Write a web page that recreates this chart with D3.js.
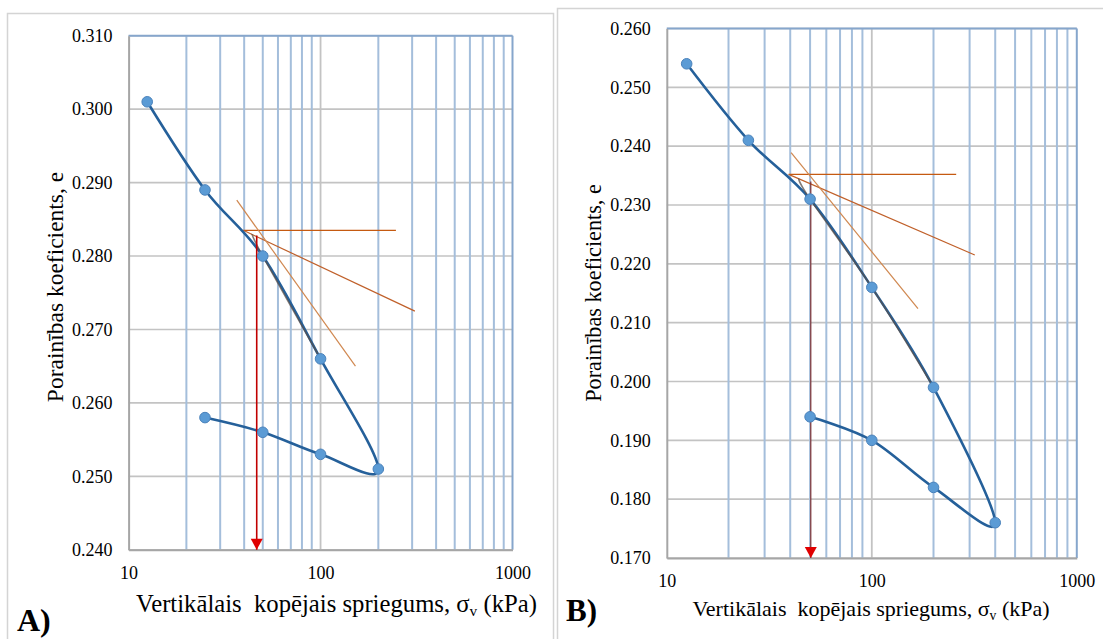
<!DOCTYPE html>
<html><head><meta charset="utf-8">
<script src="https://cdn.jsdelivr.net/npm/d3@7"></script>
<style>
body{margin:0;background:#fff}
svg{display:block}
text{font-family:"Liberation Serif","Times New Roman",serif;fill:#000}
</style>
</head><body>
<svg id="c" width="1103" height="639"></svg>
<script>
// ---------- data ----------
const xMajorTicks = [10, 100, 1000];
const xMinorTicks = [20, 30, 40, 50, 60, 70, 80, 90, 200, 300, 400, 500, 600, 700, 800, 900];
const yTicksA = [0.240, 0.250, 0.260, 0.270, 0.280, 0.290, 0.300, 0.310];
const yTicksB = [0.170, 0.180, 0.190, 0.200, 0.210, 0.220, 0.230, 0.240, 0.250, 0.260];

// A) loading then unloading (kPa, void ratio)
const stressA = [12.5, 25, 50, 100, 200, 100, 50, 25];
const voidA   = [0.301, 0.289, 0.280, 0.266, 0.251, 0.253, 0.256, 0.258];
// B)
const stressB = [12.5, 25, 50, 100, 200, 400, 200, 100, 50];
const voidB   = [0.254, 0.241, 0.231, 0.216, 0.199, 0.176, 0.182, 0.190, 0.194];

// Casagrande construction lines [stress, e]
const horizA   = [[39.6, 0.2835], [247, 0.2835]];
const tangA    = [[39.6, 0.2835], [310, 0.2725]];
const virginA  = [[36.6, 0.2876], [152, 0.2650]];
const overlayA = [[44, 0.2830], [50, 0.2800], [100, 0.2660]];
const pcA      = [[46.5, 0.2828], [46.5, 0.240]];

const horizB   = [[39.3, 0.2352], [258, 0.2352]];
const tangB    = [[39.3, 0.2352], [318, 0.2215]];
const virginB  = [[40.4, 0.2389], [168, 0.2124]];
const overlayB = [[44, 0.2345], [50, 0.2310], [100, 0.2160], [200, 0.1990]];
const pcB      = [[50.4, 0.2340], [50.4, 0.170]];

const xTitle = "Vertikālais\u00a0 kopējais spriegums, σ";
const yTitle = "Porainības koeficients, e";

// ---------- drawing ----------
const svg = d3.select("#c");

const panels = [
  {label:"A)", x0:128.6, x1:512.5, yb:549.8, yt:35.7, dom:[0.240,0.310], yTicks:yTicksA,
   stress:stressA, e:voidA, horiz:horizA, tang:tangA, virgin:virginA, overlay:overlayA, pc:pcA,
   pcColor:"#c00000", pcWidth:1.6,
   box:[7.5,13.5,546,700], xFs:24.7, yFs:23.5, xTitleX:336.5, xTitleY:612, yTitleX:63, yTitleY:287,
   labX:17, labY:631, labFs:32},
  {label:"B)", x0:666.8, x1:1076.8, yb:558, yt:28.5, dom:[0.170,0.260], yTicks:yTicksB,
   stress:stressB, e:voidB, horiz:horizB, tang:tangB, virgin:virginB, overlay:overlayB, pc:pcB,
   pcColor:"#7b2424", pcWidth:1.1,
   box:[557.5,8.5,560,700], xFs:22, yFs:22.2, xTitleX:871, xTitleY:616, yTitleX:601, yTitleY:293,
   labX:566, labY:621, labFs:31}
];

panels.forEach(p => {
  const g = svg.append("g");
  g.append("rect").attr("x",p.box[0]).attr("y",p.box[1]).attr("width",p.box[2]).attr("height",p.box[3])
    .attr("fill","none").attr("stroke","#d4d4d4").attr("stroke-width",1.5);

  const x = d3.scaleLog().domain([10,1000]).range([p.x0,p.x1]);
  const y = d3.scaleLinear().domain(p.dom).range([p.yb,p.yt]);

  // horizontal gridlines
  g.selectAll(".hg").data(p.yTicks).join("line")
    .attr("x1",p.x0).attr("x2",p.x1).attr("y1",d=>y(d)).attr("y2",d=>y(d))
    .attr("stroke","#c3c3c3").attr("stroke-width",1.6);
  // minor vertical gridlines (blue)
  g.selectAll(".vm").data(xMinorTicks).join("line")
    .attr("x1",d=>x(d)).attr("x2",d=>x(d)).attr("y1",p.yt).attr("y2",p.yb)
    .attr("stroke","#a4bedb").attr("stroke-width",2);
  // major vertical gridline
  g.selectAll(".vM").data([100]).join("line")
    .attr("x1",d=>x(d)).attr("x2",d=>x(d)).attr("y1",p.yt).attr("y2",p.yb)
    .attr("stroke","#c3c3c3").attr("stroke-width",1.8);
  // borders
  g.append("line").attr("x1",p.x0).attr("x2",p.x1).attr("y1",p.yt).attr("y2",p.yt)
    .attr("stroke","#86a6cc").attr("stroke-width",2);
  g.append("line").attr("x1",p.x1).attr("x2",p.x1).attr("y1",p.yt).attr("y2",p.yb)
    .attr("stroke","#86a6cc").attr("stroke-width",2);

  // axes
  const ya = g.append("g").attr("transform",`translate(${p.x0},0)`)
    .call(d3.axisLeft(y).tickValues(p.yTicks).tickFormat(d3.format(".3f")).tickSize(0).tickPadding(16));
  ya.select(".domain").attr("stroke","#a6a6a6").attr("stroke-width",2);
  ya.selectAll("text").attr("font-size",18).attr("font-family","Liberation Serif");

  const xa = g.append("g").attr("transform",`translate(0,${p.yb})`)
    .call(d3.axisBottom(x).tickValues(xMajorTicks).tickFormat(d3.format("d")).tickSize(0).tickPadding(16));
  xa.select(".domain").attr("stroke","#a6a6a6").attr("stroke-width",2);
  xa.selectAll("text").attr("font-size",18).attr("font-family","Liberation Serif");

  const lineGen = d3.line().x(d=>x(d[0])).y(d=>y(d[1]));
  const smooth = d3.line().x(d=>x(d[0])).y(d=>y(d[1])).curve(d3.curveCardinal.tension(0));

  // construction lines
  g.append("path").attr("d",lineGen(p.horiz)).attr("fill","none").attr("stroke","#c55a11").attr("stroke-width",1.3);
  g.append("path").attr("d",lineGen(p.tang)).attr("fill","none").attr("stroke","#c0602a").attr("stroke-width",1.2);
  g.append("path").attr("d",lineGen(p.virgin)).attr("fill","none").attr("stroke","#d08850").attr("stroke-width",1.2);

  // main curve
  const pts = p.stress.map((s,i)=>[s,p.e[i]]);
  g.append("path").attr("d",smooth(pts)).attr("fill","none").attr("stroke","#25609a").attr("stroke-width",2.6);
  // darker overlay along the virgin part
  g.append("path").attr("d",smooth(p.overlay)).attr("fill","none").attr("stroke","#5a4f4a")
    .attr("stroke-width",1.6).attr("opacity",0.75);

  // preconsolidation arrow
  g.append("path").attr("d",lineGen(p.pc)).attr("fill","none").attr("stroke",p.pcColor).attr("stroke-width",p.pcWidth);
  const ax = x(p.pc[1][0]), ay = y(p.pc[1][1]);
  g.append("path").attr("d",`M${ax-6},${ay-11}L${ax+6},${ay-11}L${ax},${ay}Z`).attr("fill","#e00000");

  // markers
  g.selectAll(".pt").data(pts).join("circle")
    .attr("cx",d=>x(d[0])).attr("cy",d=>y(d[1])).attr("r",5.3)
    .attr("fill","#5b9bd5").attr("stroke","#4a82bb").attr("stroke-width",1);

  // titles
  const xt = g.append("text").attr("x",p.xTitleX).attr("y",p.xTitleY)
    .attr("text-anchor","middle").attr("font-size",p.xFs);
  xt.append("tspan").text(xTitle);
  xt.append("tspan").attr("font-size",p.xFs*0.62).attr("dy",4).text("v");
  xt.append("tspan").attr("dy",-4).text(" (kPa)");

  g.append("text").attr("transform",`translate(${p.yTitleX},${p.yTitleY}) rotate(-90)`)
    .attr("text-anchor","middle").attr("font-size",p.yFs).text(yTitle);

  g.append("text").attr("x",p.labX).attr("y",p.labY).attr("font-size",p.labFs)
    .attr("font-weight","bold").text(p.label);
});
</script>
</body></html>
